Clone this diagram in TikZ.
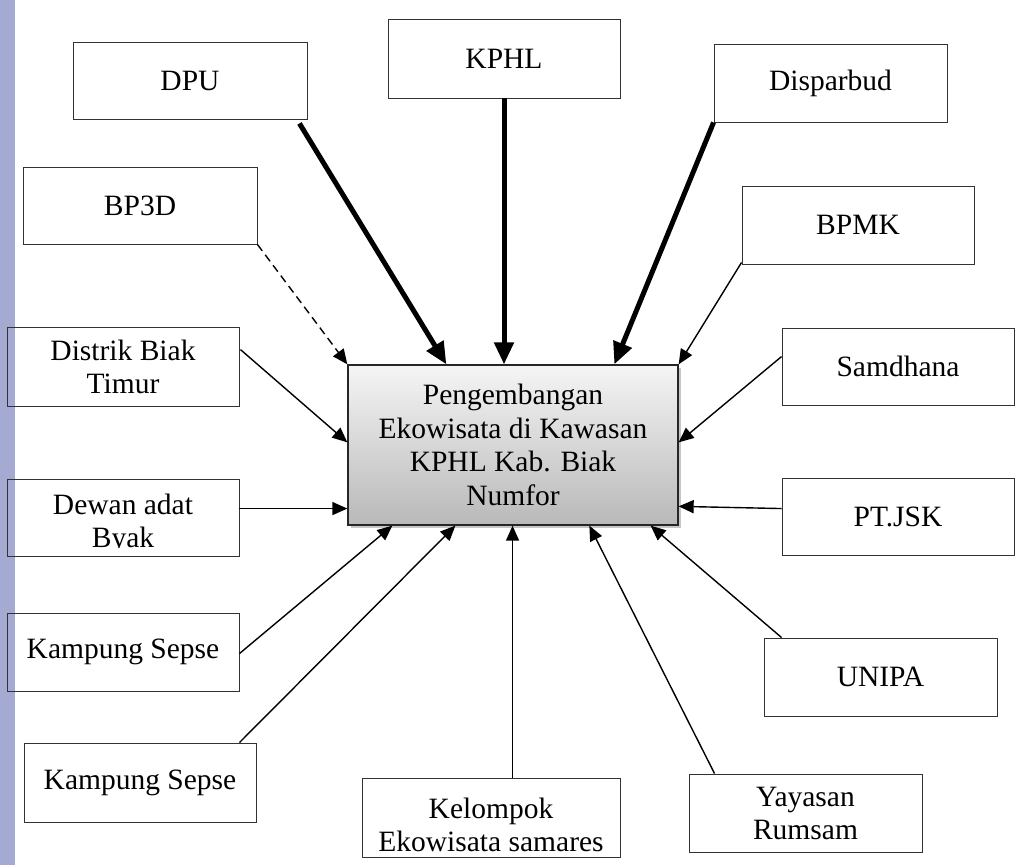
\documentclass[tikz,border=0pt]{standalone}
\usepackage{fontspec}
\setmainfont{Liberation Serif}
\usetikzlibrary{arrows.meta,shadows,calc}
\definecolor{stripcol}{RGB}{165,170,211}
\begin{document}
\begin{tikzpicture}[x=1pt,y=-1pt,
  box/.style={draw=black!80, line width=0.9pt, rectangle, inner sep=0pt, align=center,
    font=\fontsize{29.5}{33}\selectfont, minimum width=232pt, minimum height=78pt},
  txt/.style={inner sep=0pt, align=center, font=\fontsize{29.5}{33}\selectfont},
  thinarrow/.style={line width=1.4pt, -{Triangle[length=15pt,width=13pt]}},
  thickarrow/.style={line width=5pt, -{Triangle[length=22pt,width=19pt]}},
  mainbox/.style={draw=black!85, line width=1.3pt, rectangle, inner sep=0pt, align=center,
    font=\fontsize{29.5}{33.5}\selectfont, top color=gray!8, bottom color=gray!55,
    drop shadow={shadow xshift=3pt, shadow yshift=-3pt, opacity=0.45},
    minimum width=330pt, minimum height=160pt}]
\useasboundingbox (0,0) rectangle (1017,865);
\fill[stripcol] (0,0) rectangle (15,865);

% central node
\node[mainbox] (center) at (513,445) {Pengembangan\\Ekowisata di Kawasan\\KPHL Kab. Biak\\Numfor};

% surrounding nodes
\node[box, minimum width=234pt, minimum height=77pt] (dpu) at (190,80.5) {DPU};
\node[box, minimum width=234pt, minimum height=77pt] (bp3d) at (140,205.5) {BP3D};
\node[box, minimum height=79pt] (kphl) at (504,58.5) {KPHL};
\node[box, minimum width=233pt] (disp) at (830.5,83) {Disparbud};
\node[box] (bpmk) at (858,225) {BPMK};
\node[box, minimum height=79pt] (distrik) at (123,366.5) {Distrik Biak\\Timur};
\node[box, minimum height=77pt] (dewan) at (123,517.5) {};
\begin{scope}
  \clip (dewan.north west) rectangle ($(dewan.south east)+(0,-9)$);
  \node[txt, anchor=north] (dewantxt) at ($(dewan.north)+(0,15)$) {Dewan adat\\Byak};
\end{scope}
\node[box] (kamp1) at (123,652) {Kampung Sepse};
\node[box, minimum height=79pt] (kamp2) at (140,782.5) {Kampung Sepse};
\node[box, minimum width=258pt, minimum height=79pt] (kel) at (491,817.5) {};
\node[txt, anchor=north] (keltxt) at ($(kel.north)+(0,20)$) {Kelompok\\Ekowisata samares};
\node[box, minimum width=233pt] (yay) at (805.5,813) {Yayasan\\Rumsam};
\node[box, minimum width=233pt] (unipa) at (880.5,677) {UNIPA};
\node[box, minimum height=77pt] (ptjsk) at (898,516.5) {PT.JSK};
\node[box, minimum height=77pt] (samd) at (898,366.5) {Samdhana};

% connectors
\draw[thickarrow] ($(dpu.south east)+(-8,4)$) -- ($(center.north west)+(99,0)$);
\coordinate (kp) at (kphl.south);
\draw[thickarrow] (kp) -- (kp |- center.north);
\draw[thickarrow] (disp.south west) -- ($(center.north west)+(267,0)$);
\draw[thinarrow, dashed, dash pattern=on 8pt off 5pt] (bp3d.south east) -- (center.north west);
\draw[thinarrow] ($(bpmk.south west)+(0,-2)$) -- (center.north east);
\draw[thinarrow] ($(distrik.north east)+(1,23)$) -- ($(center.north west)+(0,78)$);
\coordinate (dw) at ($(dewan.north east)+(0,30)$);
\draw[thinarrow] (dw) -- (dw -| center.west);
\draw[thinarrow] ($(kamp1.north east)+(0,41)$) -- ($(center.south west)+(45,0)$);
\draw[thinarrow] ($(kamp2.north east)+(-17,0)$) -- ($(center.south west)+(108,0)$);
\coordinate (kl) at ($(kel.north west)+(151,0)$);
\draw[thinarrow] (kl) -- (kl |- center.south);
\draw[thinarrow] ($(yay.north west)+(26,0)$) -- ($(center.south west)+(242,0)$);
\draw[thinarrow] ($(unipa.north west)+(18,0)$) -- ($(center.south east)+(-28,0)$);
\draw[thinarrow] ($(ptjsk.north west)+(0,31)$) -- ($(center.north east)+(0,142)$);
\draw[thinarrow] ($(samd.north west)+(0,29)$) -- ($(center.north east)+(0,78)$);
\end{tikzpicture}
\end{document}
